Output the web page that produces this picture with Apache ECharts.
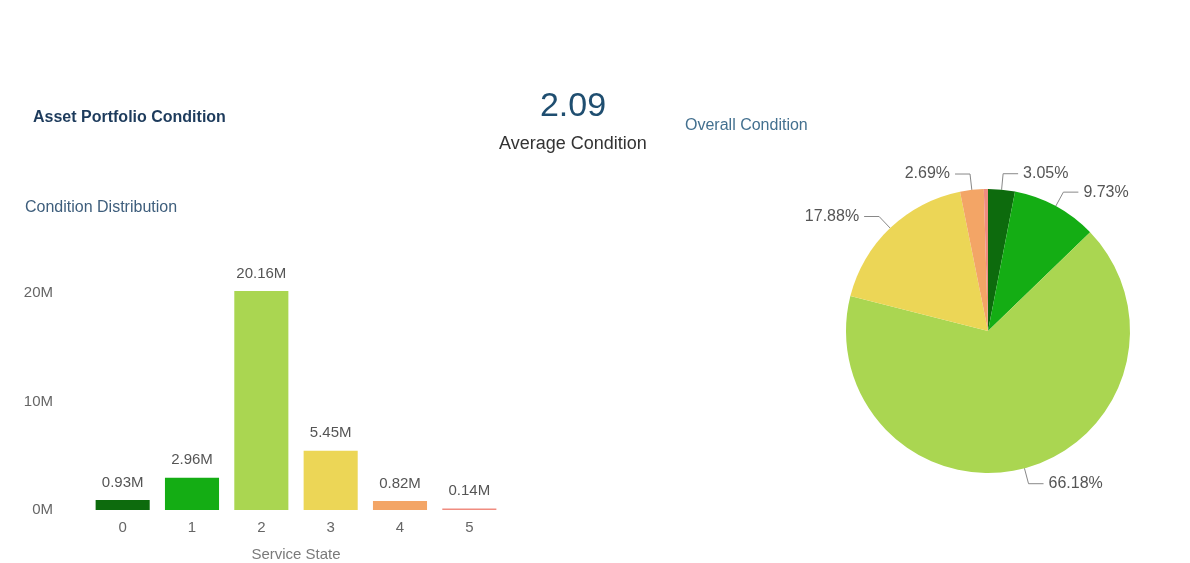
<!DOCTYPE html>
<html>
<head>
<meta charset="utf-8">
<title>Asset Portfolio Condition</title>
<script src="https://cdn.jsdelivr.net/npm/echarts@6/dist/echarts.min.js"></script>
<style>
  html, body { margin: 0; padding: 0; background: #ffffff; }
  #chart { width: 1190px; height: 563px; }
</style>
</head>
<body>
<div id="chart"></div>
<script>
// Service states and the asset value (in millions) in each state
const states = ['0', '1', '2', '3', '4', '5'];
const valuesM = [0.93, 2.96, 20.16, 5.45, 0.82, 0.14];
// Share of overall condition per state, in percent
const sharePct = [3.05, 9.73, 66.18, 17.88, 2.69, 0.47];
const stateColors = ['#0d6b0d', '#14ad14', '#aad651', '#ecd656', '#f3a566', '#f08c80'];
const yTicks = [0, 10, 20];
const averageCondition = '2.09';

const FONT = '"Liberation Sans", Arial, sans-serif';

const chart = echarts.init(document.getElementById('chart'), null, { renderer: 'canvas' });

// The smallest slice is too thin to carry a readable label
const pieData = states.map((s, i) => {
  const tiny = sharePct[i] < 1;
  return {
    name: s,
    value: sharePct[i],
    itemStyle: { color: stateColors[i] },
    label: { show: !tiny },
    labelLine: { show: !tiny }
  };
});

const option = {
  backgroundColor: '#ffffff',
  animation: false,
  textStyle: { fontFamily: FONT },
  title: [
    {
      text: 'Asset Portfolio Condition',
      left: 33, top: 110, padding: 0,
      textStyle: { fontSize: 16, fontWeight: 'bold', color: '#1d3b5c', fontFamily: FONT }
    },
    {
      text: 'Condition Distribution',
      left: 25, top: 200, padding: 0,
      textStyle: { fontSize: 16, fontWeight: 'normal', color: '#3e5e7c', fontFamily: FONT }
    },
    {
      text: averageCondition,
      left: 573, top: 90, padding: 0, textAlign: 'center',
      textStyle: { fontSize: 34, fontWeight: 'normal', color: '#1f4e70', fontFamily: FONT }
    },
    {
      text: 'Average Condition',
      left: 573, top: 135, padding: 0, textAlign: 'center',
      textStyle: { fontSize: 18, fontWeight: 'normal', color: '#333333', fontFamily: FONT }
    },
    {
      text: 'Overall Condition',
      left: 685, top: 118, padding: 0,
      textStyle: { fontSize: 16, fontWeight: 'normal', color: '#43708f', fontFamily: FONT }
    }
  ],
  grid: { left: 88, width: 416, top: 271, bottom: 53, containLabel: false },
  xAxis: {
    type: 'category',
    data: states,
    name: 'Service State',
    nameLocation: 'middle',
    nameGap: 37,
    nameTextStyle: { color: '#7a7a7a', fontSize: 15, fontFamily: FONT },
    axisLine: { show: false },
    axisTick: { show: false },
    axisLabel: { color: '#666666', fontSize: 15, margin: 10, fontFamily: FONT }
  },
  yAxis: {
    type: 'value',
    min: 0,
    max: 22,
    interval: 10,
    axisLine: { show: false },
    axisTick: { show: false },
    splitLine: { show: false },
    axisLabel: {
      color: '#666666', fontSize: 15, margin: 35, fontFamily: FONT,
      showMaxLabel: false,
      formatter: v => (yTicks.includes(v) ? v + 'M' : '')
    }
  },
  series: [
    {
      type: 'bar',
      data: valuesM.map((v, i) => ({ value: v, itemStyle: { color: stateColors[i] } })),
      barWidth: '78%',
      label: {
        show: true,
        position: 'top',
        distance: 10,
        color: '#555555',
        fontSize: 15,
        fontFamily: FONT,
        formatter: p => p.value.toFixed(2) + 'M'
      }
    },
    {
      type: 'pie',
      center: [988, 331],
      radius: 142,
      startAngle: 90,
      clockwise: true,
      avoidLabelOverlap: true,
      data: pieData,
      label: {
        color: '#555555',
        fontSize: 16,
        fontFamily: FONT,
        formatter: p => p.value.toFixed(2) + '%'
      },
      labelLine: {
        length: 16,
        length2: 15,
        lineStyle: { color: '#888888', width: 1 }
      },
      itemStyle: { borderWidth: 0 }
    }
  ]
};

chart.setOption(option);
</script>
</body>
</html>
